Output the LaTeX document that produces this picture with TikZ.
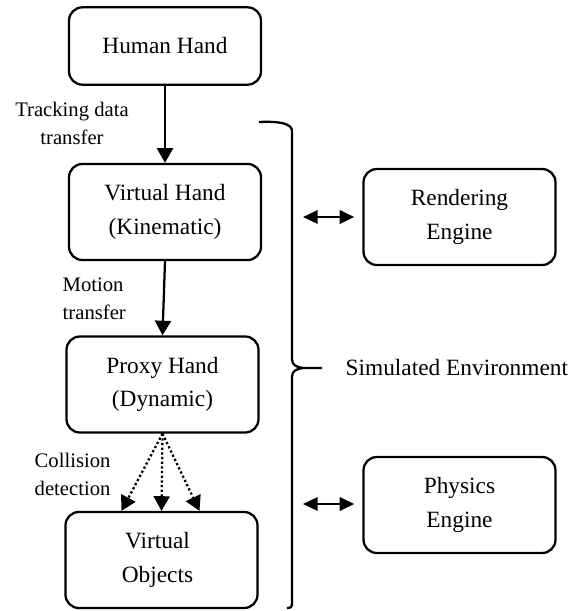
\documentclass[tikz,border=0pt]{standalone}
\usepackage{fontspec}
\setmainfont{Liberation Serif}
\usepackage{tikz}
\usetikzlibrary{arrows.meta, calc}
\usepackage{xcolor}

\begin{document}
\begin{tikzpicture}[x=0.75pt,y=0.75pt,yscale=-1,xscale=1,
  box/.style={draw, line width=1.7pt, rounded corners=10pt, minimum width=144pt, minimum height=72pt, align=center, font=\fontsize{17.5}{25}\selectfont},
  lbl/.style={align=left, font=\fontsize{15.5}{21}\selectfont},
  tip/.style={-{Triangle[length=11pt,width=12pt]}, line width=1.7pt},
  dtip/.style={{Triangle[length=11pt,width=10pt]}-{Triangle[length=11pt,width=10pt]}, line width=1.8pt}]
%set diagram size
\useasboundingbox (0,0) rectangle (575,611);

%Rounded Rect: human hand
\draw (165,46) node [box, minimum height=58pt] (hh) {Human Hand};
%Rounded Rect: virtual hand
\draw (165,212) node [box] (vh) {Virtual Hand\\(Kinematic)};
%Rounded Rect: proxy hand
\draw (162.5,384.5) node [box] (ph) {Proxy Hand\\(Dynamic)};
%Rounded Rect: virtual objects
\draw (161.5,560) node [box] (vo) {Virtual\hspace*{6pt}\\Objects\hspace*{6pt}};
%Rounded Rect: rendering engine
\draw (459.5,217) node [box] (re) {Rendering\\Engine};
%Rounded Rect: physics engine
\draw (459.5,505) node [box] (pe) {Physics\\Engine};

%Straight Lines: arrows down the chain
\draw [tip] (hh.south) -- (vh.north);
\draw [tip] (vh.south) -- (ph.north);
%Dotted Lines: collision
\coordinate (c1) at ($(vo.north)+(-40,0)$);
\coordinate (c2) at ($(vo.north)+(0,0)$);
\coordinate (c3) at ($(vo.north)+(38,0)$);
\draw [tip, dash pattern={on 1.7pt off 1.8pt}] (ph.south) -- (c1);
\draw [tip, dash pattern={on 1.7pt off 1.8pt}] (ph.south) -- (c2);
\draw [tip, dash pattern={on 1.7pt off 1.8pt}] (ph.south) -- (c3);

%Brace
\draw [line width=1.7pt] (259,122) .. controls (281,121) and (292,124) .. (292,131) -- (292,359) .. controls (292,365) and (296,367) .. (303,368) -- (322,368) ;
\draw [line width=1.7pt] (303,368) .. controls (296,369) and (292,371) .. (292,377) -- (292,603) .. controls (292,607) and (291,608) .. (287,608) ;

%Double arrows to the engines
\coordinate (ra) at (303,217);
\coordinate (pa) at (303,504);
\draw [dtip, shorten >=6pt] (ra) -- (re.west |- ra);
\draw [dtip, shorten >=6pt] (pa) -- (pe.west |- pa);

% Text Node
\draw (72,123.5) node [lbl, align=center] (tdt) {Tracking data\\transfer};
% Text Node
\draw (58,299) node [lbl, anchor=west] (mt) {Motion\\transfer};
% Text Node
\draw (30,474) node [lbl, anchor=west] (cd) {Collision\\detection};
% Text Node
\draw (341,368) node [anchor=west, font=\fontsize{17.5}{25}\selectfont] (se) {Simulated Environment};

\end{tikzpicture}
\end{document}
